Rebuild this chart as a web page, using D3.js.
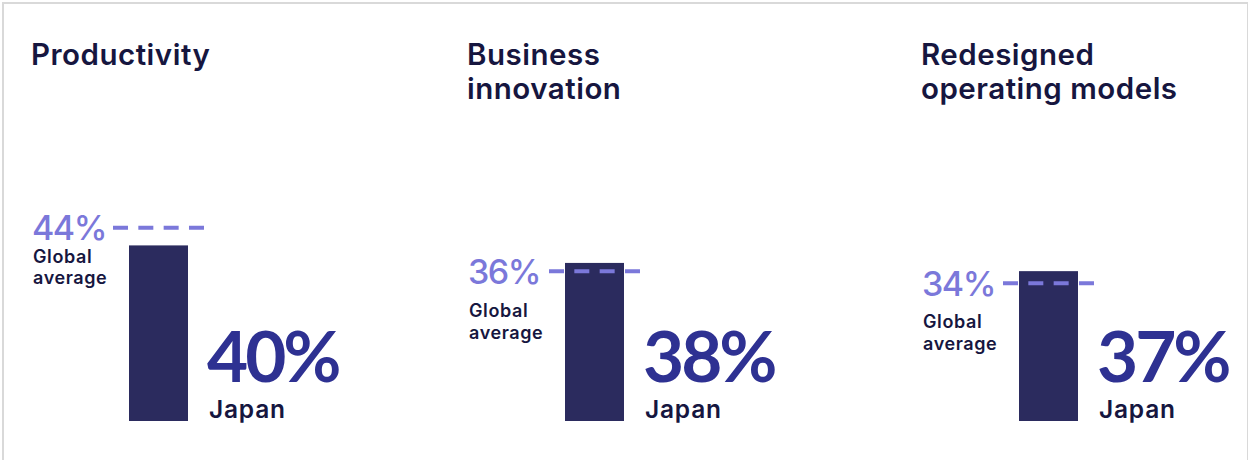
<!DOCTYPE html>
<html>
<head>
<meta charset="utf-8">
<script src="https://cdn.jsdelivr.net/npm/d3@7"></script>
<style>
  html, body { margin: 0; padding: 0; background: #fff; }
  svg { display: block; }
  text { font-family: Inter, "Noto Sans", sans-serif; }
  text.big { font-family: Lato, Inter, sans-serif; }
</style>
</head>
<body>
<svg id="chart" width="1248" height="460"></svg>
<script>
// Metric names (each title may wrap to two lines)
const metrics = [
  ["Productivity"],
  ["Business", "innovation"],
  ["Redesigned", "operating models"]
];
// Share of respondents, in percent
const japanValues  = [40, 38, 37];
const globalValues = [44, 36, 34];
const countryLabel = "Japan";
const globalLabel  = ["Global", "average"];

// ---- layout ----
const W = 1248, H = 460;
const panelLeft = [31, 467, 921];
const pxPerPoint = [4.39, 4.16, 4.05];   // each panel's own vertical scale
const globalLabelGap = [35, 46, 45];
const baseY = 421;
const barOffset = 98, barW = 59, lineOverhang = 16;

const colors = {
  bar: "#2b2b5e",
  big: "#2e3192",
  ink: "#16163f",
  accent: "#7b78da",
  border: "#d9d9d9"
};

const svg = d3.select("#chart");

// frame
svg.append("line").attr("x1", 2).attr("x2", W).attr("y1", 3).attr("y2", 3)
  .attr("stroke", colors.border).attr("stroke-width", 2);
svg.append("line").attr("x1", 3).attr("x2", 3).attr("y1", 2).attr("y2", H)
  .attr("stroke", colors.border).attr("stroke-width", 2);
svg.append("line").attr("x1", W - 0.5).attr("x2", W - 0.5).attr("y1", 2).attr("y2", H)
  .attr("stroke", colors.border).attr("stroke-width", 1);

metrics.forEach((title, i) => {
  const x0 = panelLeft[i];
  const y = d3.scaleLinear().domain([0, 100]).range([baseY, baseY - 100 * pxPerPoint[i]]);
  const g = svg.append("g");

  // title
  const t = g.append("text")
    .attr("fill", colors.ink)
    .attr("font-size", 29.5).attr("font-weight", 600)
    .attr("letter-spacing", 0.5);
  title.forEach((line, k) => {
    t.append("tspan").attr("x", x0).attr("y", 65 + k * 33.5).text(line);
  });

  // Japan bar
  const bx = x0 + barOffset;
  g.append("rect")
    .attr("x", bx).attr("width", barW)
    .attr("y", y(japanValues[i]))
    .attr("height", y(0) - y(japanValues[i]))
    .attr("fill", colors.bar);

  // global average marker
  const gy = y(globalValues[i]);
  g.append("line")
    .attr("x1", bx - lineOverhang).attr("x2", bx + barW + lineOverhang)
    .attr("y1", gy).attr("y2", gy)
    .attr("stroke", colors.accent).attr("stroke-width", 4)
    .attr("stroke-dasharray", "15 10.33");

  g.append("text")
    .attr("x", x0 + 1).attr("y", gy + 12.5)
    .attr("fill", colors.accent)
    .attr("font-size", 34).attr("font-weight", 500)
    .attr("letter-spacing", -1.5)
    .text(globalValues[i] + "%");

  const gl = g.append("text")
    .attr("fill", colors.ink)
    .attr("font-size", 18).attr("font-weight", 600)
    .attr("letter-spacing", 0.6);
  globalLabel.forEach((line, k) => {
    gl.append("tspan").attr("x", x0 + 2).attr("y", gy + globalLabelGap[i] + k * 21.5).text(line);
  });

  // Japan value
  g.append("text").attr("class", "big")
    .attr("x", bx + barW + 19).attr("y", y(0) - 39)
    .attr("fill", colors.big)
    .attr("font-size", 71).attr("font-weight", 700)
    .attr("letter-spacing", -3)
    .text(japanValues[i] + "%");
  g.append("text")
    .attr("x", bx + barW + 21).attr("y", y(0) - 3)
    .attr("fill", colors.ink)
    .attr("font-size", 24.5).attr("font-weight", 600)
    .attr("letter-spacing", 0.8)
    .text(countryLabel);
});
</script>
</body>
</html>
